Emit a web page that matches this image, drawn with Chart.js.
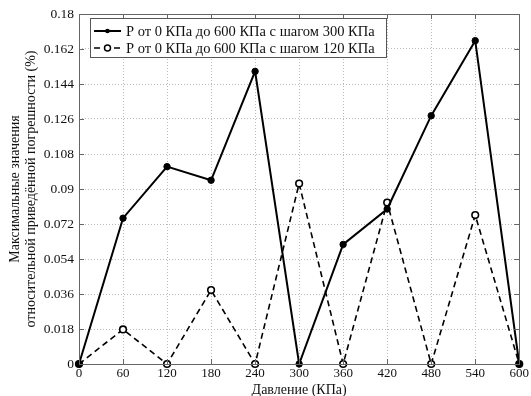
<!DOCTYPE html>
<html>
<head>
<meta charset="utf-8">
<script src="https://cdn.jsdelivr.net/npm/chart.js@4"></script>
<style>
  html, body { margin: 0; padding: 0; background: #fff; }
  #wrap { width: 531px; height: 396px; }
</style>
</head>
<body>
<div id="wrap"><canvas id="errChart" width="531" height="396"></canvas></div>
<script>
// Давление, КПа
const pressure = [0, 60, 120, 180, 240, 300, 360, 420, 480, 540, 600];
// шаг 300 КПа
const step300 = [0, 0.075, 0.1015, 0.0945, 0.1505, 0, 0.0615, 0.0797, 0.1277, 0.1663, 0];
// шаг 120 КПа
const step120 = [0, 0.0178, 0, 0.038, 0, 0.0928, 0, 0.0830, 0, 0.0766, 0];

const seriesLabels = [
    'P от 0 КПа до 600 КПа с шагом 300 КПа',
    'P от 0 КПа до 600 КПа с шагом 120 КПа'
];
const xTitle = 'Давление (КПа)';
const yTitle = ['Максимальные значения', 'относительной приведённой погрешности (%)'];

const FONT = '"Liberation Serif", "Times New Roman", serif';

const toPoints = (vals) => pressure.map((p, i) => ({ x: p, y: vals[i] }));

// рамка, внутренние риски и легенда в рамке
const framePlugin = {
    id: 'frame',
    afterDraw(chart) {
        const ctx = chart.ctx;
        const a = chart.chartArea;
        const xs = chart.scales.x, ys = chart.scales.y;
        ctx.save();
        ctx.strokeStyle = '#666';
        ctx.lineWidth = 1;
        ctx.setLineDash([]);
        ctx.beginPath();
        xs.ticks.forEach(t => {
            const px = Math.round(xs.getPixelForValue(t.value)) + 0.5;
            ctx.moveTo(px, a.bottom); ctx.lineTo(px, a.bottom - 5);
            ctx.moveTo(px, a.top); ctx.lineTo(px, a.top + 5);
        });
        ys.ticks.forEach(t => {
            const py = Math.round(ys.getPixelForValue(t.value)) + 0.5;
            ctx.moveTo(a.left, py); ctx.lineTo(a.left + 5, py);
            ctx.moveTo(a.right, py); ctx.lineTo(a.right - 5, py);
        });
        ctx.stroke();
        ctx.strokeRect(Math.round(a.left) + 0.5, Math.round(a.top) + 0.5,
            Math.round(a.right - a.left), Math.round(a.bottom - a.top));

        // легенда
        const bx = 90.5, by = 18.5, bw = 296, bh = 39;
        ctx.fillStyle = '#fff';
        ctx.fillRect(bx, by, bw, bh);
        ctx.strokeStyle = '#555';
        ctx.strokeRect(bx, by, bw, bh);
        ctx.font = '14.5px ' + FONT;
        ctx.textBaseline = 'middle';
        chart.data.datasets.forEach((ds, i) => {
            const y = 31 + i * 17;
            ctx.strokeStyle = '#000';
            ctx.lineWidth = ds.borderWidth;
            ctx.setLineDash(ds.borderDash || []);
            ctx.beginPath();
            ctx.moveTo(94, y); ctx.lineTo(121, y);
            ctx.stroke();
            ctx.setLineDash([]);
            ctx.beginPath();
            ctx.arc(107.5, y, i === 0 ? 1.6 : 3, 0, Math.PI * 2);
            ctx.fillStyle = ds.pointBackgroundColor;
            ctx.fill();
            ctx.lineWidth = 1.5;
            ctx.stroke();
            ctx.fillStyle = '#111';
            ctx.fillText(ds.label, 126, y + 1);
        });
        ctx.restore();
    }
};

const ctx = document.getElementById('errChart').getContext('2d');
new Chart(ctx, {
    type: 'line',
    data: {
        datasets: [
            {
                label: seriesLabels[0],
                data: toPoints(step300),
                borderColor: '#000',
                borderWidth: 2,
                pointRadius: 3.2,
                pointBackgroundColor: '#000',
                pointBorderColor: '#000',
                pointBorderWidth: 1,
                tension: 0,
                clip: false,
                order: 1
            },
            {
                label: seriesLabels[1],
                data: toPoints(step120),
                borderColor: '#000',
                borderWidth: 1.6,
                borderDash: [6, 4],
                pointRadius: 3.3,
                pointBackgroundColor: '#fff',
                pointBorderColor: '#000',
                pointBorderWidth: 1.6,
                tension: 0,
                clip: false,
                order: 2
            }
        ]
    },
    options: {
        responsive: false,
        animation: false,
        layout: { padding: { top: 14, right: 10, left: 0, bottom: 0 } },
        plugins: {
            legend: { display: false },
            tooltip: { enabled: false }
        },
        scales: {
            x: {
                type: 'linear',
                min: 0,
                max: 600,
                ticks: {
                    stepSize: 60,
                    color: '#111',
                    font: { family: FONT, size: 13 },
                    padding: 2,
                    maxRotation: 0
                },
                grid: {
                    color: '#bbb',
                    lineWidth: 1,
                    drawTicks: false
                },
                border: { display: false, dash: [1, 2] },
                title: {
                    display: true,
                    text: xTitle,
                    color: '#111',
                    font: { family: FONT, size: 14 },
                    padding: { top: 0, bottom: -3 }
                },
                afterFit(scale) { scale.height = 32; }
            },
            y: {
                min: 0,
                max: 0.18,
                ticks: {
                    stepSize: 0.018,
                    color: '#111',
                    font: { family: FONT, size: 13.5 },
                    padding: 5,
                    callback: (v) => String(Number(v.toFixed(3)))
                },
                grid: {
                    color: '#bbb',
                    lineWidth: 1,
                    drawTicks: false
                },
                border: { display: false, dash: [1, 2] },
                title: {
                    display: true,
                    text: yTitle,
                    color: '#111',
                    font: { family: FONT, size: 14, lineHeight: 1.15 },
                    padding: { top: 7, bottom: 2 }
                },
                afterFit(scale) { scale.width = 79; }
            }
        }
    },
    plugins: [framePlugin]
});
</script>
</body>
</html>
